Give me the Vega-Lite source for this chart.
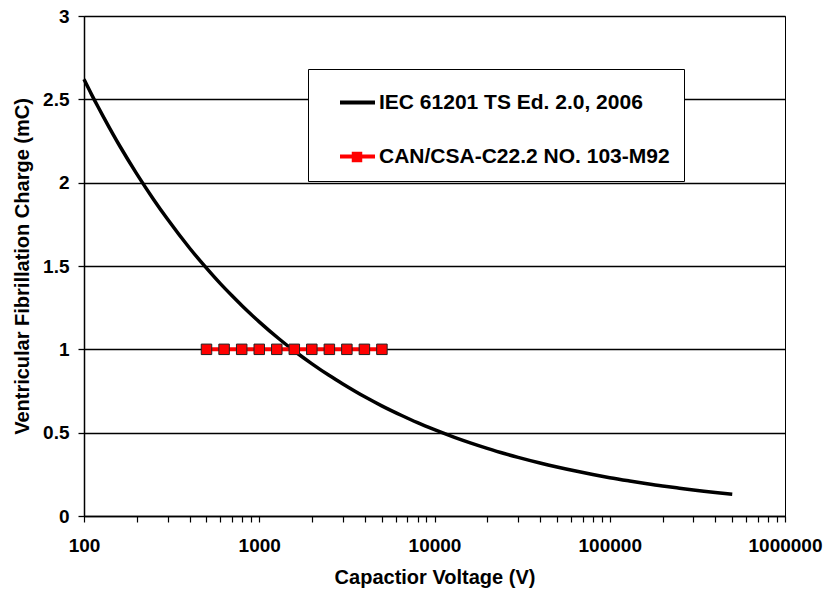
{
  "$schema": "https://vega.github.io/schema/vega-lite/v6.json",
  "width": 701,
  "height": 500,
  "autosize": {"type": "none"},
  "padding": {"left": 84, "top": 16, "right": 45, "bottom": 76},
  "background": "white",
  "config": {
    "view": {"stroke": "black", "strokeWidth": 1},
    "font": "Liberation Sans"
  },
  "datasets": {
    "iec": [
      {"v": 100, "q": 2.62}, {"v": 110, "q": 2.533}, {"v": 120, "q": 2.457}, {"v": 130, "q": 2.389},
      {"v": 160, "q": 2.22}, {"v": 200, "q": 2.053},
      {"v": 250, "q": 1.898}, {"v": 300, "q": 1.78}, {"v": 400, "q": 1.608}, {"v": 500, "q": 1.487},
      {"v": 600, "q": 1.394}, {"v": 700, "q": 1.321}, {"v": 800, "q": 1.26}, {"v": 900, "q": 1.209},
      {"v": 1000, "q": 1.165}, {"v": 1300, "q": 1.062},
      {"v": 1600, "q": 0.987}, {"v": 2000, "q": 0.913}, {"v": 2500, "q": 0.844}, {"v": 3000, "q": 0.792},
      {"v": 4000, "q": 0.715}, {"v": 5000, "q": 0.661}, {"v": 6500, "q": 0.603}, {"v": 8000, "q": 0.56},
      {"v": 10000, "q": 0.518}, {"v": 13000, "q": 0.472}, {"v": 16000, "q": 0.439}, {"v": 20000, "q": 0.406},
      {"v": 25000, "q": 0.375}, {"v": 30000, "q": 0.352}, {"v": 40000, "q": 0.318}, {"v": 50000, "q": 0.294},
      {"v": 65000, "q": 0.268}, {"v": 80000, "q": 0.249}, {"v": 100000, "q": 0.23}, {"v": 130000, "q": 0.21},
      {"v": 160000, "q": 0.195}, {"v": 200000, "q": 0.18}, {"v": 250000, "q": 0.167}, {"v": 300000, "q": 0.156},
      {"v": 400000, "q": 0.141}, {"v": 500000, "q": 0.131}
    ],
    "can": [
      {"v": 500, "q": 1}, {"v": 630, "q": 1}, {"v": 794, "q": 1}, {"v": 1000, "q": 1},
      {"v": 1259, "q": 1}, {"v": 1585, "q": 1}, {"v": 1995, "q": 1}, {"v": 2512, "q": 1},
      {"v": 3162, "q": 1}, {"v": 3981, "q": 1}, {"v": 5012, "q": 1}
    ]
  },
  "encoding": {
    "x": {
      "field": "v", "type": "quantitative",
      "scale": {"type": "log", "domain": [100, 1000000], "nice": false},
      "axis": {
        "title": "Capactior Voltage (V)",
        "values": [100,200,300,400,500,600,700,800,900,1000,2000,3000,4000,5000,6000,7000,8000,9000,10000,20000,30000,40000,50000,60000,70000,80000,90000,100000,200000,300000,400000,500000,600000,700000,800000,900000,1000000],
        "format": "d",
        "labelExpr": "indexof([100,1000,10000,100000,1000000], datum.value) >= 0 ? datum.label : ''",
        "grid": false,
        "domainColor": "black", "domainWidth": 1.5,
        "tickColor": "black", "tickSize": 6, "tickWidth": 1.2,
        "labelFont": "Liberation Sans", "labelFontWeight": "bold", "labelFontSize": 19, "labelColor": "black",
        "labelPadding": 14, "labelOverlap": false, "labelFlush": false,
        "titleFont": "Liberation Sans", "titleFontWeight": "bold", "titleFontSize": 20, "titleColor": "black",
        "titlePadding": 12,
        "encode": {"ticks": {"y": {"value": -6}}}
      }
    },
    "y": {
      "field": "q", "type": "quantitative",
      "scale": {"domain": [0, 3], "nice": false},
      "axis": {
        "title": "Ventricular Fibrillation Charge (mC)",
        "values": [0, 0.5, 1, 1.5, 2, 2.5, 3],
        "format": "~g",
        "grid": true, "gridColor": "black", "gridWidth": 1.3, "gridOpacity": 1,
        "domainColor": "black", "domainWidth": 1.5,
        "tickColor": "black", "tickSize": 6, "tickWidth": 1.3,
        "labelFont": "Liberation Sans", "labelFontWeight": "bold", "labelFontSize": 19, "labelColor": "black",
        "labelPadding": 9,
        "titleFont": "Liberation Sans", "titleFontWeight": "bold", "titleFontSize": 20, "titleColor": "black",
        "titlePadding": 10
      }
    }
  },
  "layer": [
    {
      "data": {"name": "iec"},
      "transform": [{"calculate": "'IEC 61201 TS Ed. 2.0, 2006'", "as": "series"}],
      "mark": {"type": "line", "strokeWidth": 3.5, "interpolate": "monotone"},
      "encoding": {
        "color": {
          "field": "series", "type": "nominal",
          "scale": {"domain": ["IEC 61201 TS Ed. 2.0, 2006", "CAN/CSA-C22.2 NO. 103-M92"], "range": ["black", "red"]},
          "legend": {
            "title": null,
            "orient": "none", "legendX": 224, "legendY": 53,
            "direction": "vertical",
            "padding": 14,
            "rowPadding": 24,
            "strokeColor": "black", "fillColor": "white",
            "symbolSize": 1225,
            "symbolStrokeWidth": 4,
            "symbolOffset": 16,
            "labelFont": "Liberation Sans", "labelFontWeight": "bold", "labelFontSize": 21, "labelColor": "black",
            "labelOffset": 2, "labelLimit": 400
          }
        }
      }
    },
    {
      "data": {"name": "can"},
      "transform": [{"calculate": "'CAN/CSA-C22.2 NO. 103-M92'", "as": "series"}],
      "mark": {"type": "line", "strokeWidth": 4},
      "encoding": {"color": {"field": "series", "type": "nominal"}}
    },
    {
      "data": {"name": "can"},
      "transform": [{"calculate": "'CAN/CSA-C22.2 NO. 103-M92'", "as": "mk"}],
      "mark": {"type": "point", "filled": true, "size": 110, "fill": "red", "stroke": "#222", "strokeWidth": 1, "opacity": 1},
      "encoding": {
        "shape": {
          "field": "mk", "type": "nominal",
          "scale": {"range": ["square"]},
          "legend": {
            "title": null,
            "orient": "none", "legendX": 267, "legendY": 135,
            "padding": 0,
            "symbolSize": 110,
            "symbolFillColor": "red", "symbolStrokeColor": "#222", "symbolStrokeWidth": 1,
            "labelExpr": "''",
            "labelFontSize": 1
          }
        }
      }
    }
  ]
}
